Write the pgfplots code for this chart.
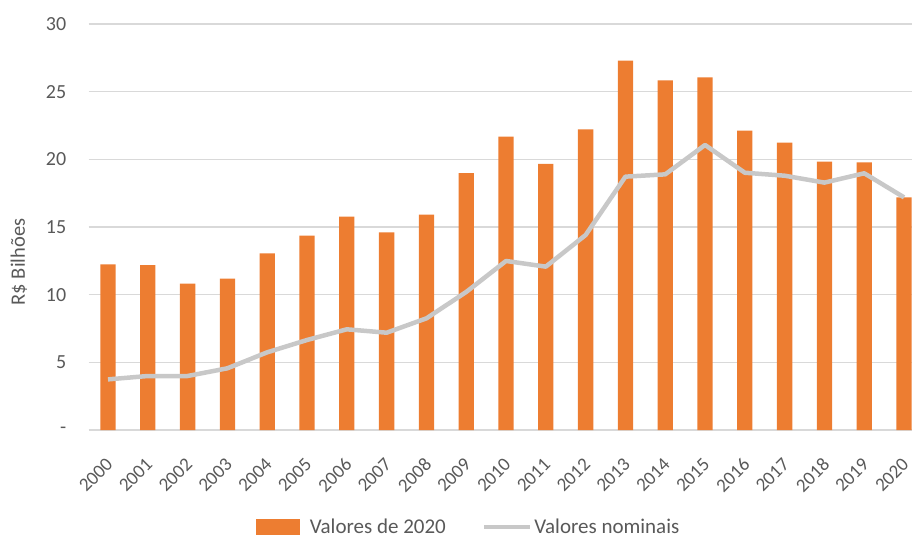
\documentclass[border=0pt]{standalone}
\usepackage{pgfplots}
\pgfplotsset{compat=1.18}
\usepackage{fontspec}
\setmainfont{Carlito}
\definecolor{barorange}{HTML}{ED7D31}
\definecolor{linegray}{HTML}{C8C8C8}
\definecolor{gridgray}{HTML}{D9D9D9}
\definecolor{textgray}{HTML}{595959}
\begin{document}
\begin{tikzpicture}[x=1pt,y=1pt]
\useasboundingbox (0,0) rectangle (912,536);
\begin{axis}[
  at={(88.7pt,106pt)}, anchor=south west,
  scale only axis, width=823.3pt, height=406pt,
  xmin=-0.485, xmax=20.2, ymin=0, ymax=30,
  axis line style={draw=none},
  ytick={0,5,10,15,20,25,30},
  yticklabels={-\hspace{10pt},5,10,15,20,25,30},
  xtick={0,1,2,3,4,5,6,7,8,9,10,11,12,13,14,15,16,17,18,19,20},
  xticklabels={2000,2001,2002,2003,2004,2005,2006,2007,2008,2009,2010,2011,2012,2013,2014,2015,2016,2017,2018,2019,2020},
  major tick length=0pt,
  ymajorgrids, grid style={gridgray, line width=1.5pt},
  tick label style={font=\fontsize{20}{24}\selectfont, text=textgray},
  xticklabel style={font=\fontsize{19}{22}\selectfont, xshift=-3pt, yshift=-22pt, rotate=45, anchor=north east},
  yticklabel style={anchor=east, xshift=-19pt},
  every axis y label/.style={at={(axis description cs:-0.0847,0.414)}, rotate=90, anchor=center, font=\fontsize{20.5}{24}\selectfont, text=textgray},
  ylabel={R\$ Bilhões},
  legend style={at={(axis description cs:0.4615,-0.239)}, anchor=center, draw=none, legend columns=2,
    font=\fontsize{21}{24}\selectfont, text=textgray,
    /tikz/every even column/.append style={column sep=34pt}},
]
\addplot[ybar, bar width=15.3pt, fill=barorange, draw=none,
  legend image code/.code={\fill[barorange] (0pt,-8pt) rectangle (44pt,8pt); \path (52pt,0pt);}]
coordinates {(0,12.24) (1,12.19) (2,10.81) (3,11.18) (4,13.05) (5,14.36) (6,15.76) (7,14.61) (8,15.91) (9,18.99) (10,21.67) (11,19.66) (12,22.22) (13,27.29) (14,25.84) (15,26.06) (16,22.12) (17,21.23) (18,19.83) (19,19.78) (20,17.19)};
\addlegendentry{Valores de 2020}
\addplot[linegray, line width=4.5pt, line join=round,
  legend image code/.code={\draw[linegray, line width=4.5pt] (0pt,0pt) -- (46pt,0pt);}]
coordinates {(0,3.74) (1,3.99) (2,3.99) (3,4.56) (4,5.74) (5,6.65) (6,7.44) (7,7.19) (8,8.25) (9,10.2) (10,12.49) (11,12.07) (12,14.41) (13,18.72) (14,18.89) (15,21.06) (16,19.01) (17,18.79) (18,18.28) (19,18.97) (20,17.19)};
\addlegendentry{Valores nominais}
\end{axis}
\end{tikzpicture}
\end{document}
